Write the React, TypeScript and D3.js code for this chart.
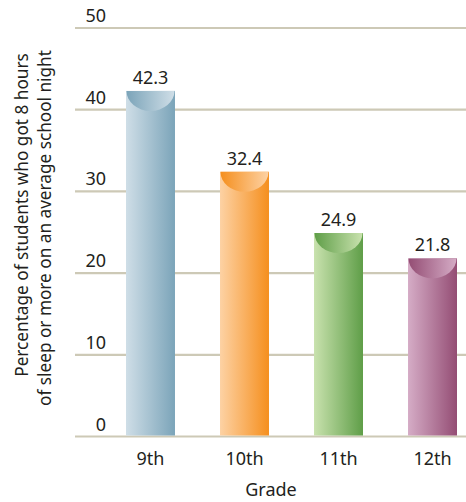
import React from "react";
import * as d3 from "d3";

const grades = ["9th", "10th", "11th", "12th"];
const percentages = [42.3, 32.4, 24.9, 21.8];
const lightColors = ["#cfdee7", "#fdd2a4", "#c9e2ae", "#d5acc6"];
const darkColors = ["#7ba4b9", "#f58f1e", "#5f9e48", "#944d74"];
const yTicks = [0, 10, 20, 30, 40, 50];

const W = 466;
const H = 502;
const FONT = "'Noto Sans', 'Open Sans', sans-serif";
const TEXT = "#231f20";

export default function App() {
  const x = d3
    .scaleBand<string>()
    .domain(grades)
    .range([79, 504])
    .paddingInner(0.479)
    .paddingOuter(0.5);
  const y = d3.scaleLinear().domain([0, 50]).range([436.5, 28]);
  const bw = x.bandwidth();
  const capRy = 20;

  return (
    <svg
      width={W}
      height={H}
      style={{ position: "absolute", left: 0, top: 0 }}
      fontFamily={FONT}
    >
      <defs>
        {grades.map((g, i) => (
          <React.Fragment key={g}>
            <linearGradient id={`body-${i}`} x1="0" x2="1" y1="0" y2="0">
              <stop offset="0" stopColor={lightColors[i]} />
              <stop offset="1" stopColor={darkColors[i]} />
            </linearGradient>
            <linearGradient id={`cap-${i}`} x1="0" x2="1" y1="0" y2="0">
              <stop offset="0" stopColor={darkColors[i]} />
              <stop offset="1" stopColor={lightColors[i]} />
            </linearGradient>
          </React.Fragment>
        ))}
      </defs>

      {/* horizontal gridlines with tick values above them */}
      {yTicks.map((t) => (
        <g key={t}>
          <line
            x1={75}
            x2={W}
            y1={y(t)}
            y2={y(t)}
            stroke="#cdc9b6"
            strokeWidth={2.2}
          />
          <text
            x={106}
            y={y(t) - 6}
            textAnchor="end"
            fontSize={18}
            fill={TEXT}
          >
            {t}
          </text>
        </g>
      ))}

      {/* bars with a curved cap at the top */}
      {grades.map((g, i) => {
        const x0 = x(g)!;
        const top = y(percentages[i]);
        const base = y(0) - 1;
        const cx = x0 + bw / 2;
        const capPath = `M${x0 + 0.5},${top} A${bw / 2 - 0.5},${capRy} 0 0 0 ${
          x0 + bw - 0.5
        },${top} Z`;
        return (
          <g key={g}>
            <rect
              x={x0}
              y={top}
              width={bw}
              height={base - top}
              fill={`url(#body-${i})`}
            />
            <path d={capPath} fill={`url(#cap-${i})`} />
            <text
              x={cx}
              y={top - 7}
              textAnchor="middle"
              fontSize={18}
              fill={TEXT}
            >
              {percentages[i]}
            </text>
            <text
              x={cx}
              y={465}
              textAnchor="middle"
              fontSize={18}
              fill={TEXT}
            >
              {g}
            </text>
          </g>
        );
      })}

      {/* axis titles */}
      <text
        x={271}
        y={496}
        textAnchor="middle"
        fontSize={18}
        fill={TEXT}
      >
        Grade
      </text>
      <text
        transform="translate(28,215) rotate(-90)"
        textAnchor="middle"
        fontSize={17.2}
        fill={TEXT}
      >
        Percentage of students who got 8 hours
      </text>
      <text
        transform="translate(51,228) rotate(-90)"
        textAnchor="middle"
        fontSize={17.2}
        fill={TEXT}
      >
        of sleep or more on an average school night
      </text>
    </svg>
  );
}
